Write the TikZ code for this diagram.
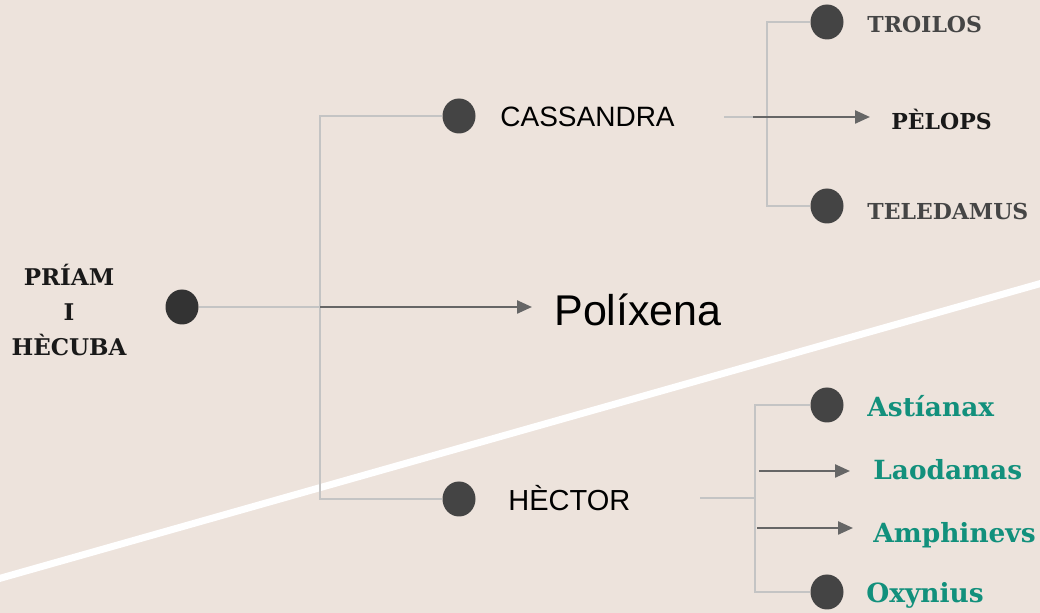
\documentclass[tikz,border=0pt]{standalone}
\usepackage{fontspec}
\setmainfont{Liberation Sans}
\newfontfamily\slab{DejaVu Serif}
\usetikzlibrary{arrows.meta,shapes.geometric}
\definecolor{paper}{HTML}{EDE3DC}
\definecolor{dotgray}{HTML}{444444}
\definecolor{linkgray}{HTML}{C4C4C4}
\definecolor{arrowgray}{HTML}{666666}
\definecolor{kidteal}{HTML}{12907C}
\definecolor{kidgray}{HTML}{454545}

\begin{document}
\begin{tikzpicture}[x=0.5pt, y=-0.5pt,
  dot/.style={ellipse, fill=dotgray, inner sep=0pt, minimum width=16.5pt, minimum height=17.5pt},
  link/.style={draw=linkgray, line width=1pt},
  arrowline/.style={draw=arrowgray, line width=1.2pt, -{Triangle[length=7.5pt, width=6.5pt]}},
  parent/.style={anchor=base west, inner sep=0pt, font=\fontsize{14}{16}\selectfont},
  kid/.style={anchor=base west, inner sep=0pt, text=kidgray, font=\slab\bfseries\fontsize{11}{14}\selectfont},
  grandkid/.style={anchor=base west, inner sep=0pt, text=kidteal, font=\slab\bfseries\fontsize{13.2}{15}\selectfont}]

  % Background
  \fill[paper] (0,0) rectangle (1040,613);
  \useasboundingbox (0,0) rectangle (1040,613);
  \draw[white, line width=3.5pt] (-20,584) -- (1060,278);

  % Parents
  \node[dot, fill=black!80] (root) at (182,307) {};
  \node[align=center, inner sep=0pt, text=black!90, font=\slab\bfseries\fontsize{11.5}{17.5}\selectfont] (rootname) at (69,310) {PRÍAM\\I\\HÈCUBA};
  \node[coordinate] (J1) at (320,307) {};

  % Children
  \node[dot] (C) at (459,116) {};
  \node[parent] (Cname) at (500,127) {CASSANDRA};
  \node[dot] (H) at (459,499) {};
  \node[parent, font=\fontsize{14.5}{16}\selectfont] (Hname) at (508,511) {HÈCTOR};
  \node[coordinate] (Ptip) at (532,307) {};
  \node[parent, font=\fontsize{21.5}{24}\selectfont] (Pname) at (554,326) {Políxena};

  % Cassandra's children
  \node[coordinate] (CJ0) at (724,117) {};
  \node[coordinate] (CJ1) at (767,117) {};
  \node[coordinate] (CA) at (753,117) {};
  \node[coordinate] (CAtip) at (870,117) {};
  \node[dot] (T1) at (827,22) {};
  \node[kid] (T1name) at (867,33) {TROILOS};
  \node[kid, text=black!90] (T2name) at (891,130) {PÈLOPS};
  \node[dot] (T3) at (827,206) {};
  \node[kid] (T3name) at (867,220) {TELEDAMUS};

  % Hector's children
  \node[coordinate] (HJ0) at (700,498) {};
  \node[coordinate] (HJ1) at (755,498) {};
  \node[dot] (A1) at (827,405) {};
  \node[grandkid] (A1name) at (867,417) {Astíanax};
  \node[coordinate] (A2) at (759,471) {};
  \node[coordinate] (A2tip) at (850,471) {};
  \node[grandkid] (A2name) at (873,480) {Laodamas};
  \node[coordinate] (A3) at (757,528) {};
  \node[coordinate] (A3tip) at (853,528) {};
  \node[grandkid] (A3name) at (873,543) {Amphinevs};
  \node[dot] (A4) at (827,592) {};
  \node[grandkid] (A4name) at (866,603) {Oxynius};

  % Links
  \draw[link] (root.east) -- (J1);
  \draw[link] (J1) |- (C.west);
  \draw[link] (J1) |- (H.west);
  \draw[link] (CJ0) -- (CJ1);
  \draw[link] (T1.west) -| (CJ1) |- (T3.west);
  \draw[link] (HJ0) -- (HJ1);
  \draw[link] (A1.west) -| (HJ1) |- (A4.west);

  % Arrows
  \draw[arrowline] (J1) -- (Ptip);
  \draw[arrowline] (CA) -- (CAtip);
  \draw[arrowline] (A2) -- (A2tip);
  \draw[arrowline] (A3) -- (A3tip);

\end{tikzpicture}
\end{document}
